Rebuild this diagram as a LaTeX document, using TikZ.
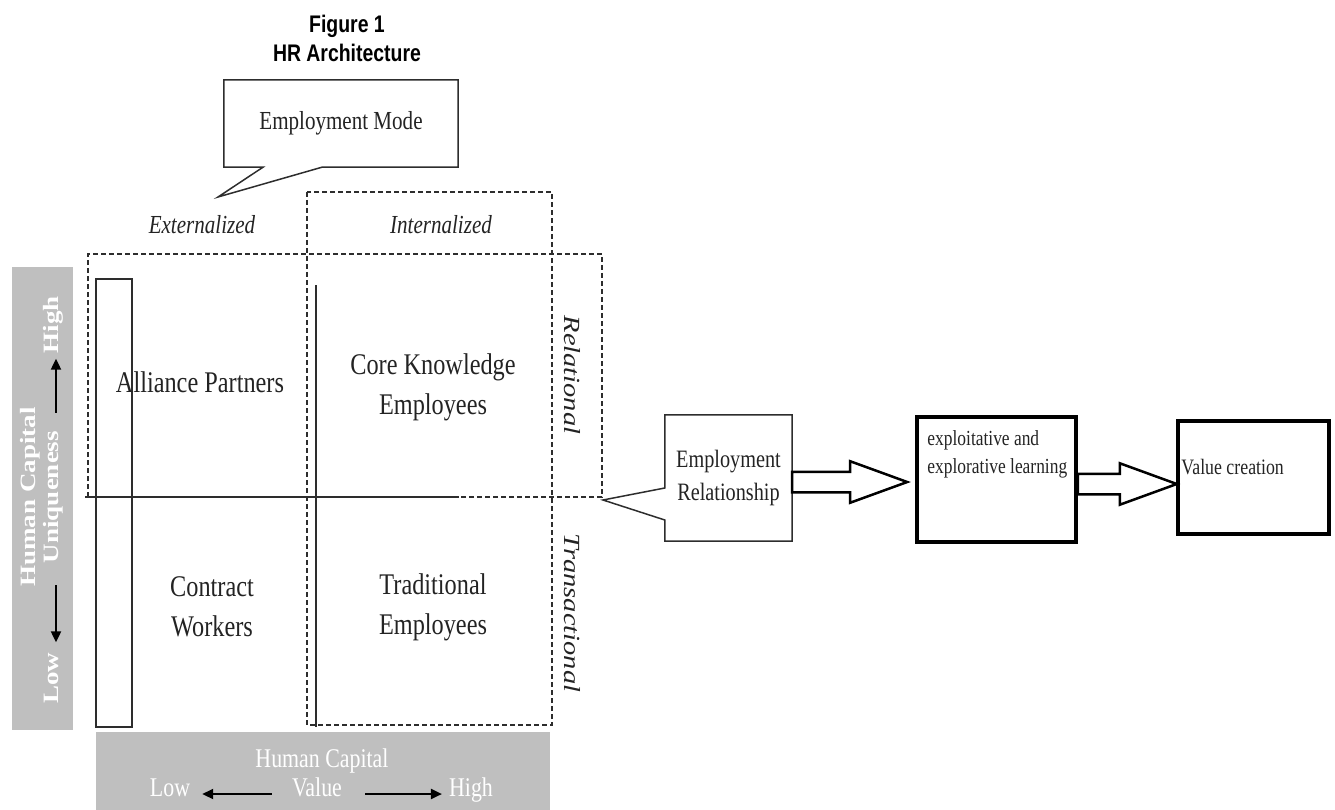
\documentclass[tikz,border=0pt]{standalone}
\usepackage{fontspec}
\setmainfont[FakeStretch=0.81]{Liberation Serif}
\newfontfamily\serifdroit{Liberation Serif}
\newfontfamily\sanstitre[FakeStretch=0.81]{Liberation Sans}
\usetikzlibrary{shapes.arrows,arrows.meta}
\definecolor{ccbar}{RGB}{191,191,191}
\definecolor{cctrait}{RGB}{45,45,45}
\definecolor{cctexte}{RGB}{35,35,35}

\begin{document}
\begin{tikzpicture}[x=1pt,y=-1pt]

  % Styles
  \tikzstyle{pointille} = [cctrait, line width=1.3pt, dash pattern=on 5pt off 3pt]
  \tikzstyle{trait} = [cctrait, line width=1.4pt]
  \tikzstyle{bulle} = [cctrait, line width=1.5pt, line join=miter]
  \tikzstyle{boite} = [draw, line width=3.5pt, inner sep=0pt]
  \tikzstyle{fleche} = [single arrow, draw, line width=2.5pt, inner xsep=0pt, inner ysep=9pt, minimum width=0pt, single arrow head extend=10.5pt, single arrow tip angle=40, anchor=tail, outer sep=0pt]
  \tikzstyle{petitefleche} = [-{Triangle[length=11pt,width=10pt]}, line width=2.2pt, black]
  \tikzstyle{blanc} = [white, inner sep=0pt, text height=0.7em, text depth=0.2em]
  \tikzstyle{vertical} = [rotate=90, yscale=0.81, font=\serifdroit\bfseries\fontsize{27}{27}\selectfont]
  \tikzstyle{case} = [align=center, text=cctexte, font=\fontsize{30}{40}\selectfont]

  % Boîte englobante
  \useasboundingbox (0,0) rectangle (1335,810);

  % Titre
  \draw (347,38) node[align=center, font=\sanstitre\bfseries\fontsize{24}{29}\selectfont] (titre) {Figure 1\\HR Architecture};

  % Bandes grises
  \fill[ccbar] (12,267) rectangle (73,730);
  \fill[ccbar] (96,732) rectangle (550,810);

  % Cadres en pointillés
  \draw[pointille] (88,497) -- (88,254) -- (602,254) -- (602,497) -- cycle;
  \draw[pointille] (307,192) rectangle (552,725);

  % Traits pleins
  \draw[trait, line width=2pt] (85,497) -- (459,497);
  \draw[trait] (316,285) -- (316,727);
  \draw[trait] (96,279) rectangle (132,727);

  % Bulle mode
  \coordinate (modetip) at (218,197);
  \draw (341,123.5) node[minimum width=234pt, minimum height=87pt, inner sep=0pt, text=cctexte, font=\fontsize{26}{26}\selectfont] (mode) {Employment Mode};
  \draw[bulle] (mode.south west) -- (mode.north west) -- (mode.north east) -- (mode.south east) -- ([xshift=-19pt]mode.south) -- (modetip) -- ([xshift=-78pt]mode.south) -- cycle;

  \draw (202,225) node[text=cctexte, font=\itshape\fontsize{26}{26}\selectfont] (externe) {Externalized};
  \draw (441,225) node[text=cctexte, font=\itshape\fontsize{26}{26}\selectfont] (interne) {Internalized};

  % Quadrants
  \draw (200,382) node[case] (alliance) {Alliance Partners};
  \draw (433,387) node[case] (coeur) {Core Knowledge\\Employees};
  \draw (212,607) node[case] (contrat) {Contract\\Workers};
  \draw (433,607) node[case] (tradition) {Traditional\\Employees};

  \draw (572,375) node[rotate=-90, yscale=0.81, text=cctexte, font=\serifdroit\itshape\fontsize{28.5}{28.5}\selectfont] (relationnel) {Relational};
  \draw (572,613) node[rotate=-90, yscale=0.81, text=cctexte, font=\serifdroit\itshape\fontsize{28.5}{28.5}\selectfont] (transaction) {Transactional};

  % Axe vertical
  \draw (33,497) node[vertical, blanc] (hcuni) {Human Capital};
  \draw (56,678) node[vertical, blanc] (basu) {Low};
  \draw (56,497) node[vertical, blanc] (unicite) {Uniqueness};
  \draw (56,325) node[vertical, blanc] (hautu) {High};
  \draw[petitefleche, shorten <=22pt, shorten >=10pt] (unicite) -- (basu);
  \draw[petitefleche, shorten <=18pt, shorten >=5pt] (unicite) -- (hautu);

  % Axe horizontal
  \draw (322,765) node[blanc, font=\fontsize{27}{27}\selectfont] (hcval) {Human Capital};
  \draw (170,794) node[blanc, font=\fontsize{27}{27}\selectfont] (basv) {Low};
  \draw (317,794) node[blanc, font=\fontsize{27}{27}\selectfont] (valeur) {Value};
  \draw (471,794) node[blanc, font=\fontsize{27}{27}\selectfont] (hautv) {High};
  \draw[petitefleche, shorten <=20pt, shorten >=12pt] (valeur) -- (basv);
  \draw[petitefleche, shorten <=23pt, shorten >=7pt] (valeur) -- (hautv);

  % Bulle relation
  \coordinate (ertip) at (603,500);
  \draw (728.5,478) node[minimum width=127pt, minimum height=126pt, inner sep=0pt, align=center, text=cctexte, font=\fontsize{25}{33}\selectfont] (er) {Employment\\Relationship};
  \draw[bulle] ([yshift=-10pt]er.west) -- (er.north west) -- (er.north east) -- (er.south east) -- (er.south west) -- ([yshift=-42pt]er.west) -- (ertip) -- cycle;

  % Boites
  \draw (996.5,479.5) node[boite, minimum width=159pt, minimum height=125pt] (apprent) {};
  \draw ([xshift=12pt,yshift=-15pt]apprent.north west) node[anchor=north west, inner sep=0pt, align=left, text=cctexte, font=\fontsize{21.5}{28}\selectfont] (apprenttexte) {exploitative and\\explorative learning};
  \draw (1253.5,477.5) node[boite, minimum width=151pt, minimum height=113pt] (creation) {};
  \draw ([xshift=5pt,yshift=10pt]creation.west) node[anchor=west, inner sep=0pt, text=cctexte, font=\fontsize{22}{22}\selectfont] (creationtexte) {Value creation};

  % Flèches
  \draw ([yshift=-4pt]er.east) node[fleche, minimum height=115pt] (fleche1) {};
  \draw ([yshift=-4.5pt]apprent.east) node[fleche, minimum height=99pt] (fleche2) {};

\end{tikzpicture}
\end{document}
